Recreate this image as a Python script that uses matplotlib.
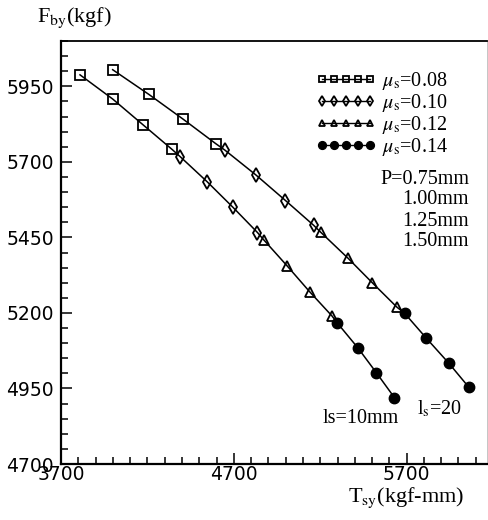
import matplotlib
matplotlib.use("Agg")
import matplotlib.pyplot as plt
from matplotlib.ticker import MultipleLocator, FixedLocator
from matplotlib.lines import Line2D

plt.rcParams['mathtext.fontset'] = 'stix'

# ---- data ----
mu_labels = ["0.08", "0.10", "0.12", "0.14"]

# ls = 10 mm
x10_mu008 = [3810, 3999, 4176, 4343]
y10_mu008 = [5988, 5908, 5822, 5741]
x10_mu010 = [4390, 4546, 4696, 4837]
y10_mu010 = [5717, 5634, 5549, 5466]
x10_mu012 = [4873, 5008, 5139, 5268]
y10_mu012 = [5442, 5356, 5270, 5190]
x10_mu014 = [5297, 5417, 5525, 5629]
y10_mu014 = [5168, 5085, 5002, 4920]

# ls = 20 mm
x20_mu008 = [3999, 4209, 4405, 4596]
y20_mu008 = [6005, 5923, 5842, 5760]
x20_mu010 = [4648, 4827, 4999, 5162]
y20_mu010 = [5739, 5657, 5572, 5490]
x20_mu012 = [5203, 5361, 5501, 5644]
y20_mu012 = [5467, 5381, 5300, 5219]
x20_mu014 = [5688, 5813, 5945, 6060]
y20_mu014 = [5199, 5117, 5033, 4954]

pitch_labels = ["P=0.75mm", "1.00mm", "1.25mm", "1.50mm"]
x_ticks = [3700, 4700, 5700]
y_ticks = [4700, 4950, 5200, 5450, 5700, 5950]

# ---- figure ----
fig = plt.figure(figsize=(4.89, 5.20), dpi=100)
ax = fig.add_axes([61/489, 1-464/520, (487-61)/489, (464-41)/520])

styles = [
    dict(marker='s', ms=6.5, mfc='none', mec='black', mew=1.3),
    dict(marker='d', ms=7.5, mfc='none', mec='black', mew=1.3),
    dict(marker='^', ms=6.5, mfc='none', mec='black', mew=1.3),
    dict(marker='o', ms=7.5, mfc='black', mec='black', mew=1.0),
]

groups10 = [(x10_mu008, y10_mu008), (x10_mu010, y10_mu010),
            (x10_mu012, y10_mu012), (x10_mu014, y10_mu014)]
groups20 = [(x20_mu008, y20_mu008), (x20_mu010, y20_mu010),
            (x20_mu012, y20_mu012), (x20_mu014, y20_mu014)]

for groups in (groups10, groups20):
    xs = [v for g in groups for v in g[0]]
    ys = [v for g in groups for v in g[1]]
    ax.plot(xs, ys, color='black', lw=1.1, zorder=2)
    for (gx, gy), st in zip(groups, styles):
        ax.plot(gx, gy, ls='none', zorder=3, **st)

ax.set_xlim(3700, 6165)
ax.set_ylim(4700, 6100)
ax.xaxis.set_major_locator(FixedLocator(x_ticks))
ax.xaxis.set_minor_locator(MultipleLocator(100))
ax.yaxis.set_major_locator(FixedLocator(y_ticks))
ax.yaxis.set_minor_locator(MultipleLocator(50))
ax.tick_params(which='both', direction='in', top=False, right=False, width=1.1)
ax.tick_params(which='major', length=8)
ax.tick_params(which='minor', length=5)
ax.tick_params(axis='x', pad=1)
ax.tick_params(axis='y', pad=5)
for lab in ax.get_xticklabels() + ax.get_yticklabels():
    lab.set_fontfamily('DejaVu Sans')
    lab.set_fontsize(13.5)

for s in ('left', 'bottom'):
    ax.spines[s].set_linewidth(1.6)
ax.spines['top'].set_linewidth(1.3)
ax.spines['right'].set_linewidth(0.6)
ax.spines['right'].set_color('#bbbbbb')

# legend
handles = []
for st in styles:
    sm = dict(st)
    sm['ms'] = sm['ms'] * (0.75 if st['marker'] == 'o' else 0.65)
    handles.append(Line2D([], [], color='black', lw=1.0, **sm))
labels = [r"$\mu_{\rm s}$=" + m for m in mu_labels]
leg = fig.legend(handles, labels, loc='upper left',
                 bbox_to_anchor=(316/489, 1-70/520), frameon=False,
                 numpoints=5, handlelength=3.0, handletextpad=0.3,
                 labelspacing=0.0, borderpad=0, borderaxespad=0,
                 prop=dict(family='Liberation Serif', size=14.5))

# pitch list
pys = [180, 200, 221, 242]
for t, py in zip(pitch_labels, pys):
    fig.text(469/489, 1-py/520, t, ha='right', va='center',
             family='Liberation Serif', fontsize=14.5)

# line labels
ax.text(5214, 4849, "ls=10mm", ha='left', va='center',
        family='Liberation Serif', fontsize=14.5)
ax.text(5758, 4882, r"l$_{\rm s}$=20", ha='left', va='center',
        family='Liberation Serif', fontsize=14.5)

# axis titles
fig.text(37/489, 1-18/520, r"F$_{\rm by}$(kgf)", ha='left', va='center',
         family='Liberation Serif', fontsize=16)
fig.text(348/489, 1-498/520, r"T$_{\rm sy}$(kgf-mm)", ha='left', va='center',
         family='Liberation Serif', fontsize=16)

fig.savefig("out.png", dpi=100)
